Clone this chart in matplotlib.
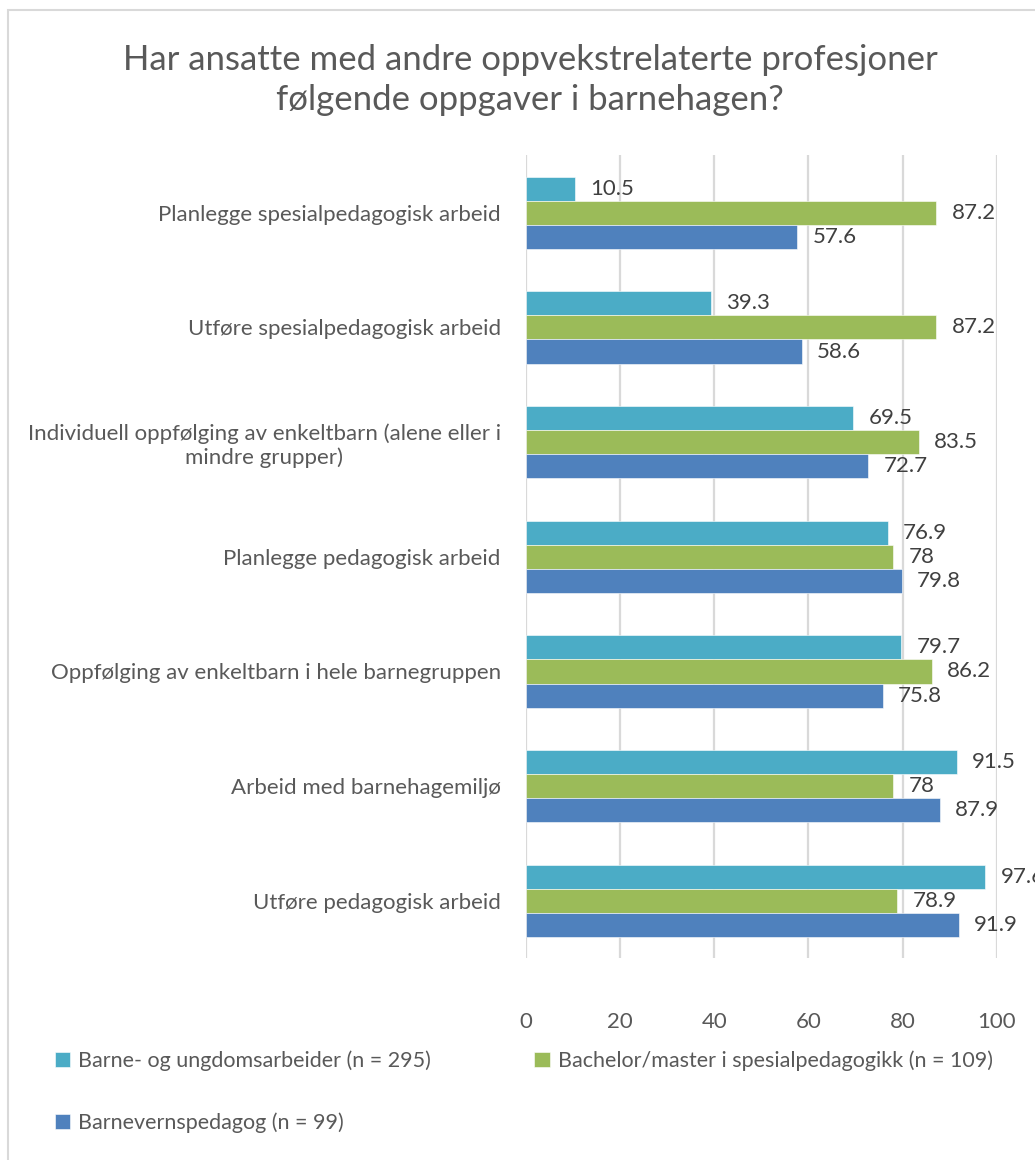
import matplotlib.pyplot as plt
import numpy as np
from matplotlib.patches import Rectangle

plt.rcParams['font.family'] = ['Lato', 'DejaVu Sans']

categories = [
    "Planlegge spesialpedagogisk arbeid",
    "Utføre spesialpedagogisk arbeid",
    "Individuell oppfølging av enkeltbarn (alene eller i\nmindre grupper)",
    "Planlegge pedagogisk arbeid",
    "Oppfølging av enkeltbarn i hele barnegruppen",
    "Arbeid med barnehagemiljø",
    "Utføre pedagogisk arbeid",
]
barne_ungdom = [10.5, 39.3, 69.5, 76.9, 79.7, 91.5, 97.6]
bachelor_spes = [87.2, 87.2, 83.5, 78, 86.2, 78, 78.9]
barnevern = [57.6, 58.6, 72.7, 79.8, 75.8, 87.9, 91.9]

series = [
    ("Barne- og ungdomsarbeider (n = 295)", barne_ungdom, "#4BACC6"),
    ("Bachelor/master i spesialpedagogikk (n = 109)", bachelor_spes, "#9BBB59"),
    ("Barnevernspedagog (n = 99)", barnevern, "#4F81BD"),
]
title = "Har ansatte med andre oppvekstrelaterte profesjoner\nfølgende oppgaver i barnehagen?"
text_col = "#595959"
fs = 16

fig = plt.figure(figsize=(10.35, 11.6), dpi=100)
ax = fig.add_axes([0.508, 0.174, 0.455, 0.692])

# border around chart area
fig.patches.append(Rectangle((8 / 1035, -0.05), 1.2, 1 - 10 / 1160 + 0.05,
                             transform=fig.transFigure, fill=False,
                             edgecolor="#D9D9D9", linewidth=1.5))

y = np.arange(len(categories))
h = 0.21
handles = []
for i, (name, vals, col) in enumerate(series):
    bars = ax.barh(y + (i - 1) * h, vals, height=h, color=col,
                   edgecolor="#ffffff", linewidth=0.4, label=name, zorder=3)
    handles.append(bars)
    for yy, v in zip(y + (i - 1) * h, vals):
        ax.annotate(f"{v:g}", (v, yy), xytext=(11, 0), textcoords="offset points",
                    va="center", ha="left", fontsize=fs, color="#404040",
                    annotation_clip=False)

ax.set_xlim(0, 100)
ax.set_ylim(len(categories) - 0.5, -0.5)
ax.set_xticks(range(0, 101, 20))
ax.set_yticks(y)
ax.set_yticklabels(categories, multialignment="center")
ax.tick_params(axis="x", length=0, pad=39, labelsize=fs, labelcolor=text_col)
ax.tick_params(axis="y", length=0, pad=18, labelsize=fs, labelcolor=text_col)
ax.grid(axis="x", color="#D9D9D9", linewidth=1.6, zorder=0)
for s in ax.spines.values():
    s.set_visible(False)

fig.text(0.512, 0.931, title, ha="center", va="center", fontsize=25,
         color=text_col, linespacing=1.3)

order = [0, 2, 1]
fig.legend([handles[k] for k in order], [series[k][0] for k in order],
           loc="upper left", bbox_to_anchor=(0.034, 0.111), ncol=2,
           frameon=False, fontsize=15.5, labelcolor=text_col,
           handlelength=0.7, handleheight=0.7, handletextpad=0.4,
           columnspacing=4.8, labelspacing=1.9)

fig.savefig("out.png", dpi=100)
